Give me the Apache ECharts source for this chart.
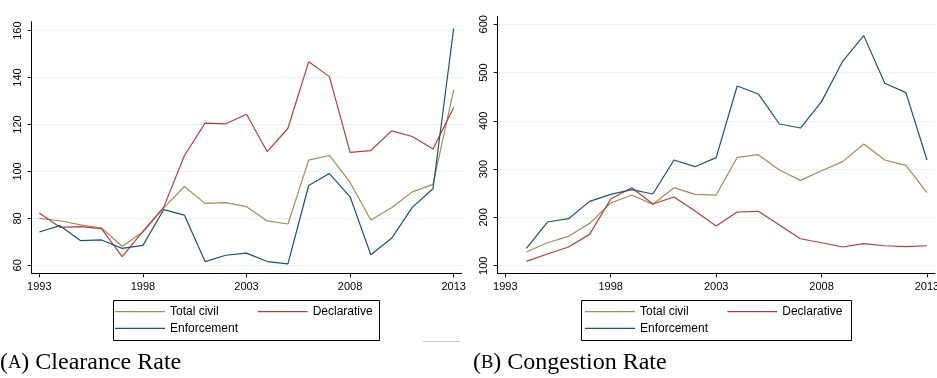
<!DOCTYPE html>
<html>
<head>
<meta charset="utf-8">
<script src="https://cdn.jsdelivr.net/npm/echarts@6/dist/echarts.min.js"></script>
<style>
html, body { margin: 0; padding: 0; background: #fff; }
#chart { width: 937px; height: 378px; }
</style>
</head>
<body>
<div id="chart"></div>
<script>
// Years shown on both panels
const clearanceYears = [1993, 1994, 1995, 1996, 1997, 1998, 1999, 2000, 2001, 2002, 2003,
                        2004, 2005, 2006, 2007, 2008, 2009, 2010, 2011, 2012, 2013];
const congestionYears = [1994, 1995, 1996, 1997, 1998, 1999, 2000, 2001, 2002, 2003,
                         2004, 2005, 2006, 2007, 2008, 2009, 2010, 2011, 2012, 2013];

// (A) Clearance rate
const clearanceTotal = [80.0, 79.0, 77.2, 75.9, 68.1, 74.2, 84.4, 93.6, 86.4, 86.7, 85.0,
                        78.9, 77.6, 104.8, 106.8, 95.3, 79.3, 84.5, 91.3, 94.5, 134.8];
const clearanceDeclarative = [82.3, 76.2, 76.5, 75.6, 63.7, 74.5, 84.7, 106.7, 120.6, 120.3, 124.4,
                              108.4, 118.4, 146.7, 140.4, 108.1, 108.9, 117.3, 114.9, 109.6, 127.2];
const clearanceEnforcement = [74.2, 76.9, 70.5, 70.8, 67.2, 68.5, 83.7, 81.4, 61.6, 64.3, 65.2,
                              61.6, 60.6, 94.0, 99.1, 89.2, 64.5, 71.5, 84.7, 92.6, 160.9];

// (B) Congestion rate
const congestionTotal = [128.3, 147.6, 160.8, 187.7, 229.8, 246.4, 227.1, 261.6, 247.8, 246.4,
                         324.4, 329.9, 298.2, 276.8, 296.8, 315.5, 352.1, 318.9, 307.9, 251.2];
const congestionDeclarative = [109.0, 124.2, 138.7, 164.9, 238.1, 261.6, 227.8, 242.3, 213.3, 182.2,
                               211.2, 212.6, 184.3, 155.9, 147.6, 138.7, 145.6, 141.4, 139.4, 141.4];
const congestionEnforcement = [136.0, 190.5, 197.4, 233.3, 247.8, 257.5, 248.5, 318.9, 305.1, 323.8,
                               472.2, 455.7, 393.5, 385.2, 439.8, 523.3, 576.5, 477.8, 458.4, 318.9];

// Tick labels
const yearTicks = [1993, 1998, 2003, 2008, 2013];
const clearanceTicks = [60, 80, 100, 120, 140, 160];
const congestionTicks = [100, 200, 300, 400, 500, 600];

const seriesNames = ['Total civil', 'Declarative', 'Enforcement'];
const seriesColors = ['#a98a58', '#b3403f', '#1c5275'];

const sansFont = '"Liberation Sans", Arial, sans-serif';
const serifFont = '"Liberation Serif", "Times New Roman", serif';

function pairs(xs, ys) {
  return xs.map((x, i) => [x, ys[i]]);
}

function xAxisFor(gridIndex, min, max) {
  return {
    type: 'value',
    gridIndex,
    min, max,
    axisLine: { show: true, onZero: false, lineStyle: { color: '#000', width: 1 } },
    axisTick: { show: true, length: 4, customValues: yearTicks, lineStyle: { color: '#000' } },
    axisLabel: {
      customValues: yearTicks,
      formatter: v => String(Math.round(v)),
      color: '#000', fontSize: 11, fontFamily: sansFont, margin: 8
    },
    splitLine: { show: false }
  };
}

function yAxisFor(gridIndex, min, max, ticks) {
  return {
    type: 'value',
    gridIndex,
    min, max,
    axisLine: { show: true, onZero: false, lineStyle: { color: '#000', width: 1 } },
    axisTick: { show: true, length: 4, customValues: ticks, lineStyle: { color: '#000' } },
    axisLabel: {
      customValues: ticks,
      rotate: 90,
      color: '#000', fontSize: 11, fontFamily: sansFont, margin: 8
    },
    splitLine: { show: true, lineStyle: { color: '#e9f1f2', width: 1.2 } }
  };
}

function lineSeries(name, idx, axisIndex, xs, ys) {
  return {
    type: 'line',
    name,
    xAxisIndex: axisIndex,
    yAxisIndex: axisIndex,
    data: pairs(xs, ys),
    symbol: 'none',
    silent: true,
    lineStyle: { color: seriesColors[idx], width: 1.2 },
    itemStyle: { color: seriesColors[idx] }
  };
}

// Legend key drawn as a thin horizontal stroke
function legendRow(names, left, top, gap) {
  return {
    data: names,
    left, top,
    orient: 'horizontal',
    padding: 0,
    icon: 'path://M0,0L50,0L50,1.3L0,1.3Z',
    symbolKeepAspect: true,
    itemWidth: 50,
    itemHeight: 14,
    itemGap: gap,
    selectedMode: false,
    textStyle: { color: '#000', fontSize: 12, fontFamily: sansFont }
  };
}

function caption(letter, rest, x) {
  return {
    type: 'text',
    x, y: 363,
    silent: true,
    style: {
      text: '(' + '{sc|' + letter + '}' + ') ' + rest,
      rich: { sc: { fontSize: 18.5, fontFamily: serifFont, fill: '#000' } },
      fontSize: 24,
      fontFamily: serifFont,
      fill: '#000',
      verticalAlign: 'middle'
    }
  };
}

const chart = echarts.init(document.getElementById('chart'), null, { renderer: 'canvas' });

chart.setOption({
  animation: false,
  backgroundColor: '#fff',
  grid: [
    { left: 31.7, top: 21.7, width: 430, height: 251.6, outerBoundsMode: 'none' },
    { left: 497.7, top: 16.7, width: 437.3, height: 256.6, outerBoundsMode: 'none' }
  ],
  xAxis: [xAxisFor(0, 1992.633, 2013.386), xAxisFor(1, 1992.64, 2013.38)],
  yAxis: [
    yAxisFor(0, 56.6, 163.8, clearanceTicks),
    yAxisFor(1, 84.3, 615.7, congestionTicks)
  ],
  legend: [
    legendRow(['Total civil', 'Declarative'], 115, 305.7, 39),
    legendRow(['Enforcement'], 115, 322.3, 39),
    legendRow(['Total civil', 'Declarative'], 585, 305.7, 38.6),
    legendRow(['Enforcement'], 585, 322.3, 38.6)
  ],
  series: [
    lineSeries(seriesNames[0], 0, 0, clearanceYears, clearanceTotal),
    lineSeries(seriesNames[1], 1, 0, clearanceYears, clearanceDeclarative),
    lineSeries(seriesNames[2], 2, 0, clearanceYears, clearanceEnforcement),
    lineSeries(seriesNames[0], 0, 1, congestionYears, congestionTotal),
    lineSeries(seriesNames[1], 1, 1, congestionYears, congestionDeclarative),
    lineSeries(seriesNames[2], 2, 1, congestionYears, congestionEnforcement)
  ],
  graphic: [
    { type: 'rect', shape: { x: 113.5, y: 300.5, width: 266, height: 40 },
      style: { fill: 'none', stroke: '#000', lineWidth: 1 }, silent: true },
    { type: 'rect', shape: { x: 581.5, y: 300.5, width: 270, height: 40 },
      style: { fill: 'none', stroke: '#000', lineWidth: 1 }, silent: true },
    { type: 'line', shape: { x1: 423, y1: 341.5, x2: 460, y2: 341.5 },
      style: { stroke: '#c4c4c4', lineWidth: 1 }, silent: true },
    caption('A', 'Clearance Rate', 0),
    caption('B', 'Congestion Rate', 473)
  ]
});
</script>
</body>
</html>
